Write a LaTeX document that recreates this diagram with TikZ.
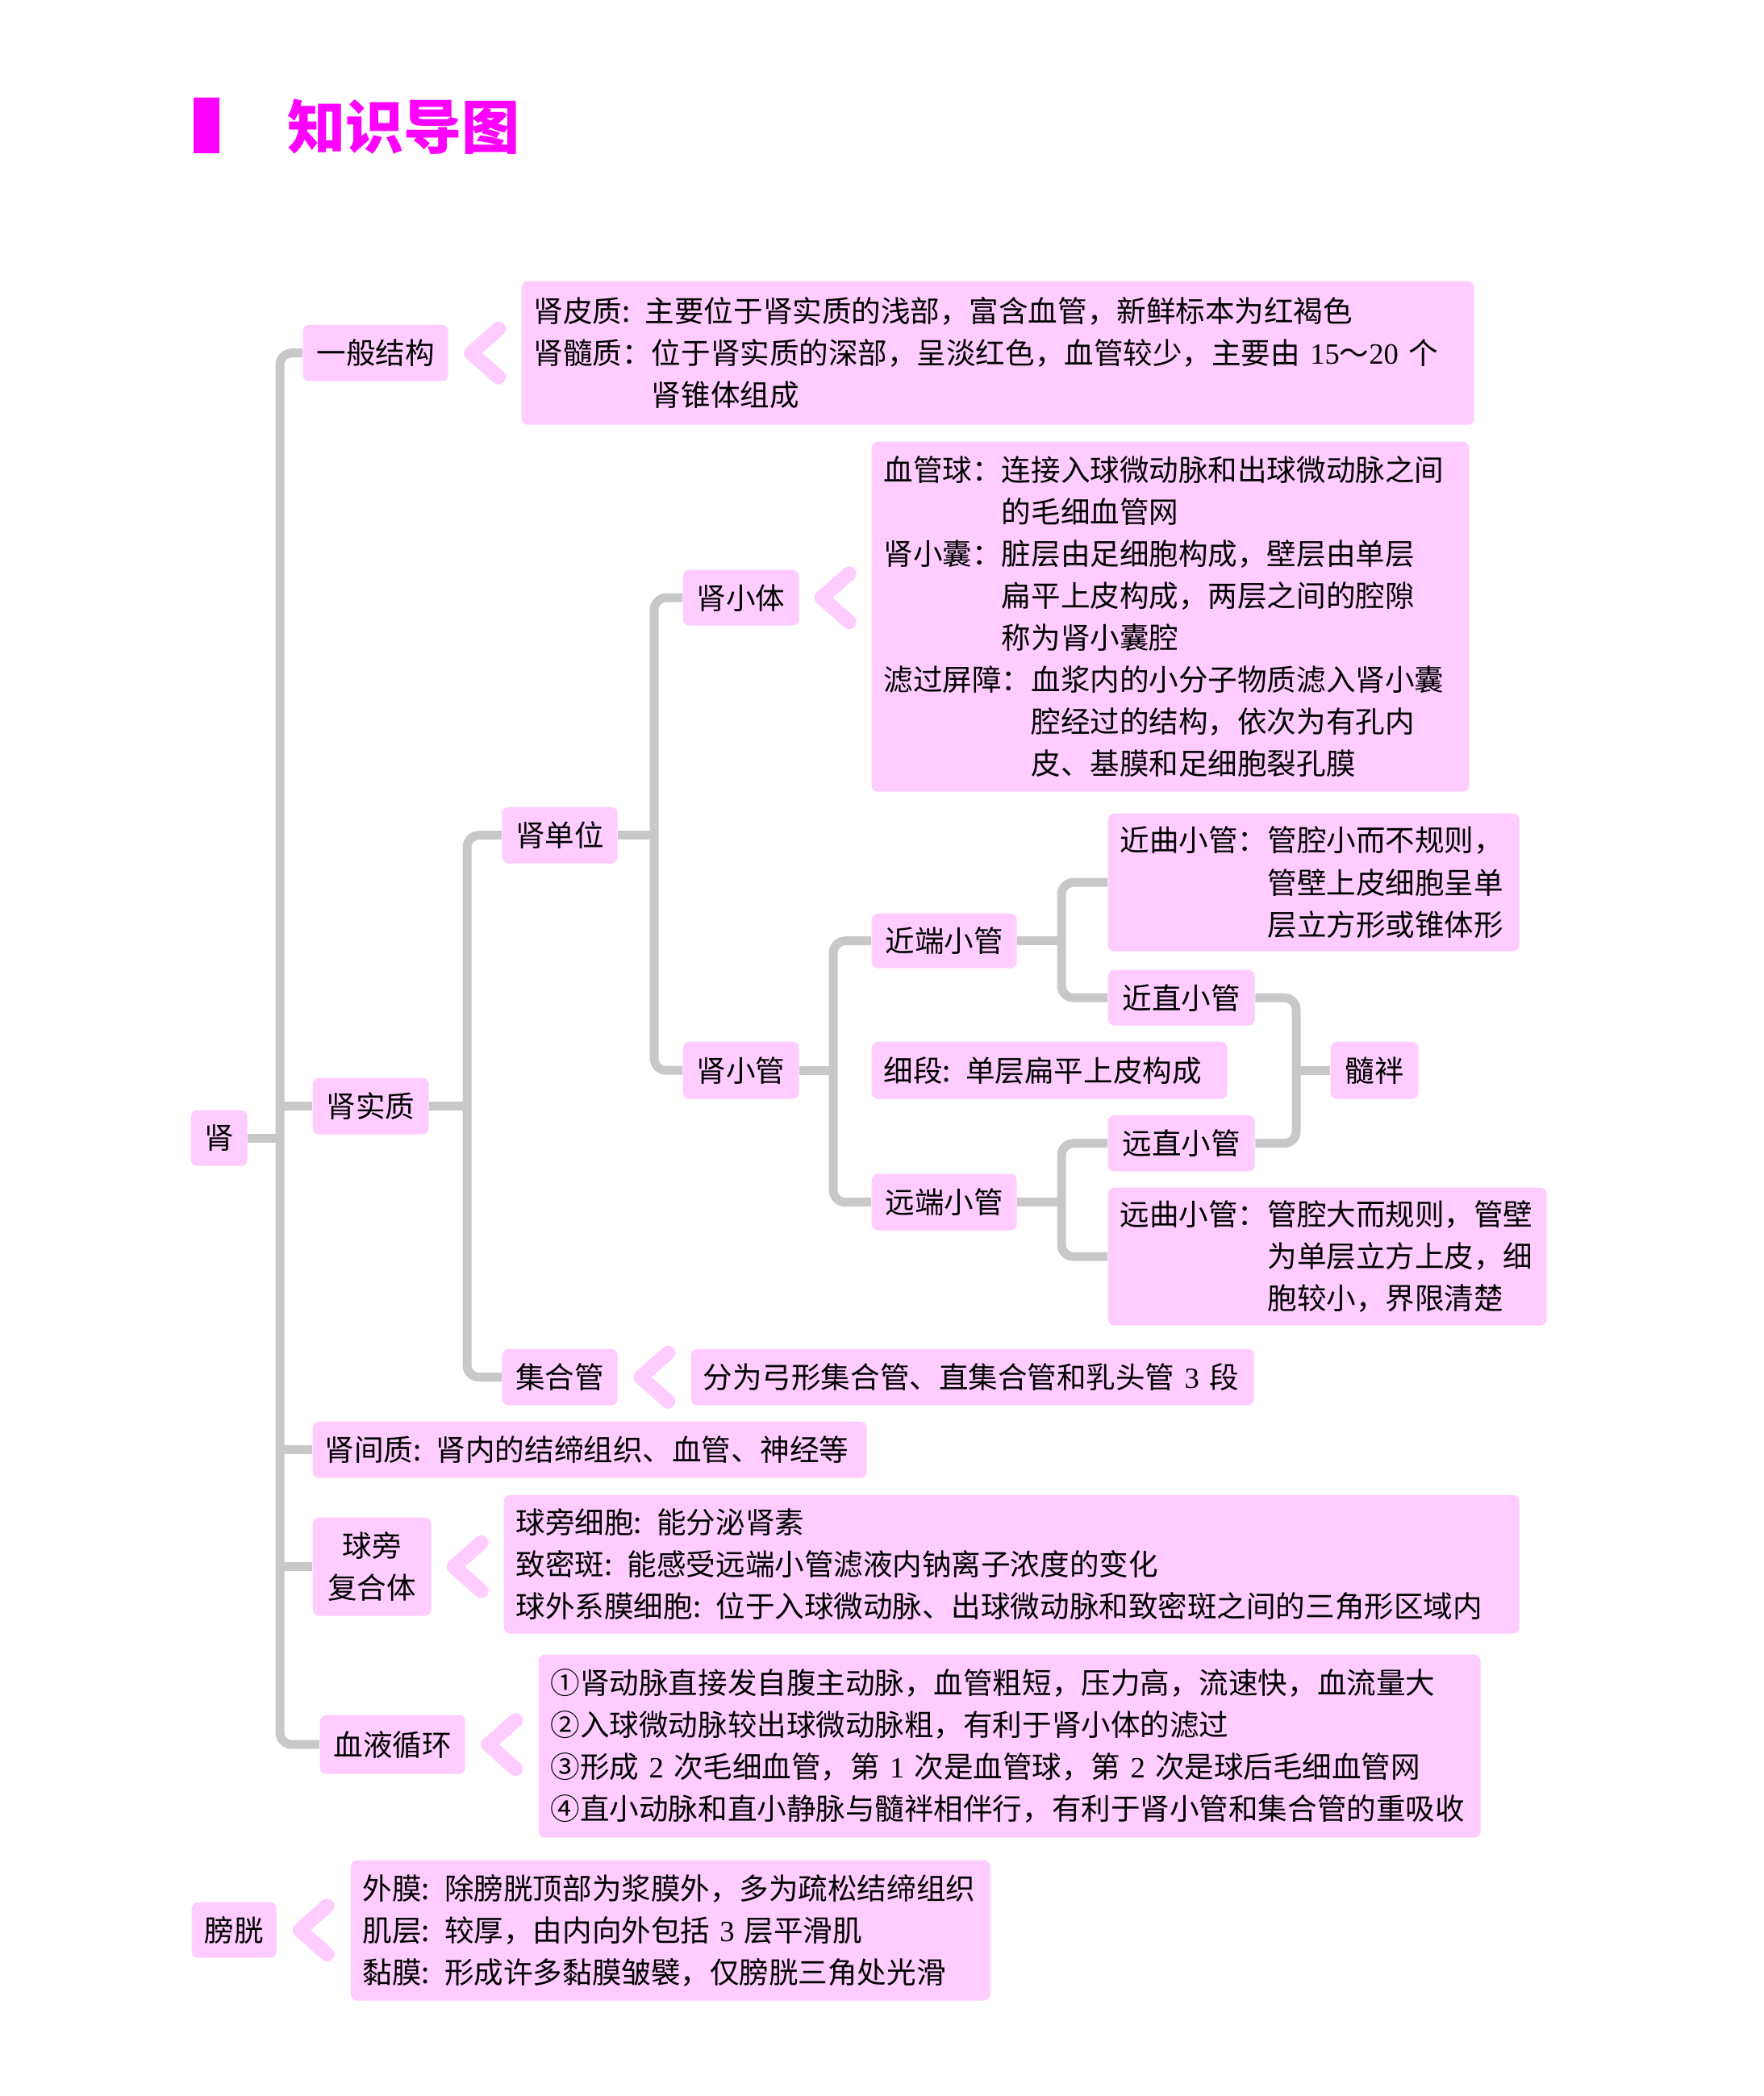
\documentclass[tikz,border=0pt]{standalone}
\usepackage{fontspec}
\usepackage{tikz}
\usetikzlibrary{calc}
\newfontfamily\cjk{Noto Sans CJK SC}
\newfontfamily\latin{Liberation Serif}
\definecolor{boxpink}{HTML}{FFCCFF}
\definecolor{treegray}{HTML}{C8C8C8}
\definecolor{titlepink}{HTML}{FF00FF}
\tikzset{
  lab/.style={fill=boxpink,rounded corners=0.08cm,inner sep=0pt,align=center,
    font=\cjk\fontsize{10.4pt}{14.8pt}\selectfont,anchor=north west},
  info/.style={lab,inner xsep=0.15cm,align=left},
  tree/.style={draw=treegray,line width=0.11cm,line cap=butt,rounded corners=0.15cm},
  chev/.style={draw=boxpink,line width=0.18cm,line cap=round,line join=round}
}
\newcommand{\pinkchevron}[2]{%
  \draw[chev] ($(#1.east)!0.5!(#2.west |- #1.east)$) ++(0.17,0.30) -- ++(-0.34,-0.30) -- ++(0.34,-0.30);}
\newcommand{\colsp}{:\hspace{0.5em}}

\begin{document}
\begin{tikzpicture}[line cap=round,line join=round,x=1.0cm,y=1.0cm]
\useasboundingbox (0,0) rectangle (21.86,-25.99);
\fill[titlepink] (2.40,-1.21) rectangle (2.72,-1.90);
\draw (3.56,-1.57) node[anchor=west,inner sep=0pt,text=titlepink,font=\cjk\bfseries\fontsize{20.5pt}{24pt}\selectfont] (title) {知识导图};

\draw (2.36,-13.76) node[lab,minimum width=0.70cm,minimum height=0.69cm] (kid) {肾};
\draw (3.75,-4.02) node[lab,minimum width=1.80cm,minimum height=0.70cm] (gen) {一般结构};
\draw (6.46,-3.48) node[info,text width=11.51cm,minimum height=1.78cm] (cortex) {肾皮质\colsp{}主要位于肾实质的浅部，富含血管，新鲜标本为红褐色\\
肾髓质：位于肾实质的深部，呈淡红色，血管较少，主要由~{\latin 15}～{\latin 20}~个\\
\phantom{肾髓质：}肾锥体组成};
\draw (3.87,-13.36) node[lab,minimum width=1.44cm,minimum height=0.70cm] (paren) {肾实质};
\draw (6.22,-10.00) node[lab,minimum width=1.43cm,minimum height=0.70cm] (unit) {肾单位};
\draw (8.46,-7.06) node[lab,minimum width=1.44cm,minimum height=0.69cm] (corp) {肾小体};
\draw (10.80,-5.47) node[info,text width=7.11cm,minimum height=4.34cm] (corpinfo) {血管球：连接入球微动脉和出球微动脉之间\\
\phantom{血管球：}的毛细血管网\\
肾小囊：脏层由足细胞构成，壁层由单层\\
\phantom{肾小囊：}扁平上皮构成，两层之间的腔隙\\
\phantom{肾小囊：}称为肾小囊腔\\
滤过屏障：血浆内的小分子物质滤入肾小囊\\
\phantom{滤过屏障：}腔经过的结构，依次为有孔内\\
\phantom{滤过屏障：}皮、基膜和足细胞裂孔膜};
\draw (8.46,-12.91) node[lab,minimum width=1.44cm,minimum height=0.71cm] (tub) {肾小管};
\draw (10.80,-11.32) node[lab,minimum width=1.80cm,minimum height=0.68cm] (prox) {近端小管};
\draw (13.73,-10.08) node[info,text width=4.80cm,minimum height=1.71cm] (pct) {近曲小管：管腔小而不规则，\\
\phantom{近曲小管：}管壁上皮细胞呈单\\
\phantom{近曲小管：}层立方形或锥体形};
\draw (13.73,-12.02) node[lab,minimum width=1.82cm,minimum height=0.69cm] (pst) {近直小管};
\draw (10.80,-12.91) node[info,text width=4.11cm,minimum height=0.71cm] (thin) {细段\colsp{}单层扁平上皮构成};
\draw (16.49,-12.91) node[lab,minimum width=1.09cm,minimum height=0.71cm] (loop) {髓袢};
\draw (13.73,-13.82) node[lab,minimum width=1.82cm,minimum height=0.70cm] (dst) {远直小管};
\draw (10.80,-14.55) node[lab,minimum width=1.80cm,minimum height=0.70cm] (dist) {远端小管};
\draw (13.73,-14.72) node[info,text width=5.14cm,minimum height=1.71cm] (dct) {远曲小管：管腔大而规则，管壁\\
\phantom{远曲小管：}为单层立方上皮，细\\
\phantom{远曲小管：}胞较小，界限清楚};
\draw (6.22,-16.72) node[lab,minimum width=1.43cm,minimum height=0.70cm] (duct) {集合管};
\draw (8.56,-16.72) node[info,text width=6.68cm,minimum height=0.70cm] (ductinfo) {分为弓形集合管、直集合管和乳头管~{\latin 3}~段};
\draw (3.87,-17.62) node[info,text width=6.57cm,minimum height=0.70cm] (inter) {肾间质\colsp{}肾内的结缔组织、血管、神经等};
\draw (3.87,-18.81) node[lab,minimum width=1.47cm,minimum height=1.22cm] (jg) {球旁\\复合体};
\draw (6.24,-18.53) node[info,text width=12.29cm,minimum height=1.72cm] (jginfo) {球旁细胞\colsp{}能分泌肾素\\
致密斑\colsp{}能感受远端小管滤液内钠离子浓度的变化\\
球外系膜细胞\colsp{}位于入球微动脉、出球微动脉和致密斑之间的三角形区域内};
\draw (3.96,-21.26) node[lab,minimum width=1.80cm,minimum height=0.73cm] (blood) {血液循环};
\draw (6.67,-20.51) node[info,text width=11.38cm,minimum height=2.27cm] (bloodinfo) {①肾动脉直接发自腹主动脉，血管粗短，压力高，流速快，血流量大\\
②入球微动脉较出球微动脉粗，有利于肾小体的滤过\\
③形成~{\latin 2}~次毛细血管，第~{\latin 1}~次是血管球，第~{\latin 2}~次是球后毛细血管网\\
④直小动脉和直小静脉与髓袢相伴行，有利于肾小管和集合管的重吸收};
\draw (2.37,-23.58) node[lab,minimum width=1.05cm,minimum height=0.69cm] (bladder) {膀胱};
\draw (4.34,-23.06) node[info,text width=7.63cm,minimum height=1.74cm] (bladinfo) {外膜\colsp{}除膀胱顶部为浆膜外，多为疏松结缔组织\\
肌层\colsp{}较厚，由内向外包括~{\latin 3}~层平滑肌\\
黏膜\colsp{}形成许多黏膜皱襞，仅膀胱三角处光滑};

\coordinate (s0) at (3.47,0);
\coordinate (s1) at (5.79,0);
\coordinate (s2) at (8.11,0);
\coordinate (s3) at (10.33,0);
\coordinate (s4) at (13.16,0);
\coordinate (s5) at (16.07,0);
\draw[tree] (gen.west) -| (s0 |- blood.west) -- (blood.west);
\draw[tree] (kid.east) -- (kid.east -| s0);
\draw[tree] (paren.west) -- (paren.west -| s0);
\draw[tree] (inter.west) -- (inter.west -| s0);
\draw[tree] (jg.west) -- (jg.west -| s0);
\draw[tree] (unit.west) -| (s1 |- duct.west) -- (duct.west);
\draw[tree] (paren.east) -- (paren.east -| s1);
\draw[tree] (corp.west) -| (s2 |- tub.west) -- (tub.west);
\draw[tree] (unit.east) -- (unit.east -| s2);
\draw[tree] (prox.west) -| (s3 |- dist.west) -- (dist.west);
\draw[tree] (tub.east) -- (tub.east -| s3);
\draw[tree] (pct.west) -| (s4 |- pst.west) -- (pst.west);
\draw[tree] (prox.east) -- (prox.east -| s4);
\draw[tree] (dst.west) -| (s4 |- dct.west) -- (dct.west);
\draw[tree] (dist.east) -- (dist.east -| s4);
\draw[tree] (pst.east) -| (s5 |- dst.east) -- (dst.east);
\draw[tree] (loop.west) -- (loop.west -| s5);

\pinkchevron{gen}{cortex}
\pinkchevron{corp}{corpinfo}
\pinkchevron{duct}{ductinfo}
\pinkchevron{jg}{jginfo}
\pinkchevron{blood}{bloodinfo}
\pinkchevron{bladder}{bladinfo}
\end{tikzpicture}
\end{document}
